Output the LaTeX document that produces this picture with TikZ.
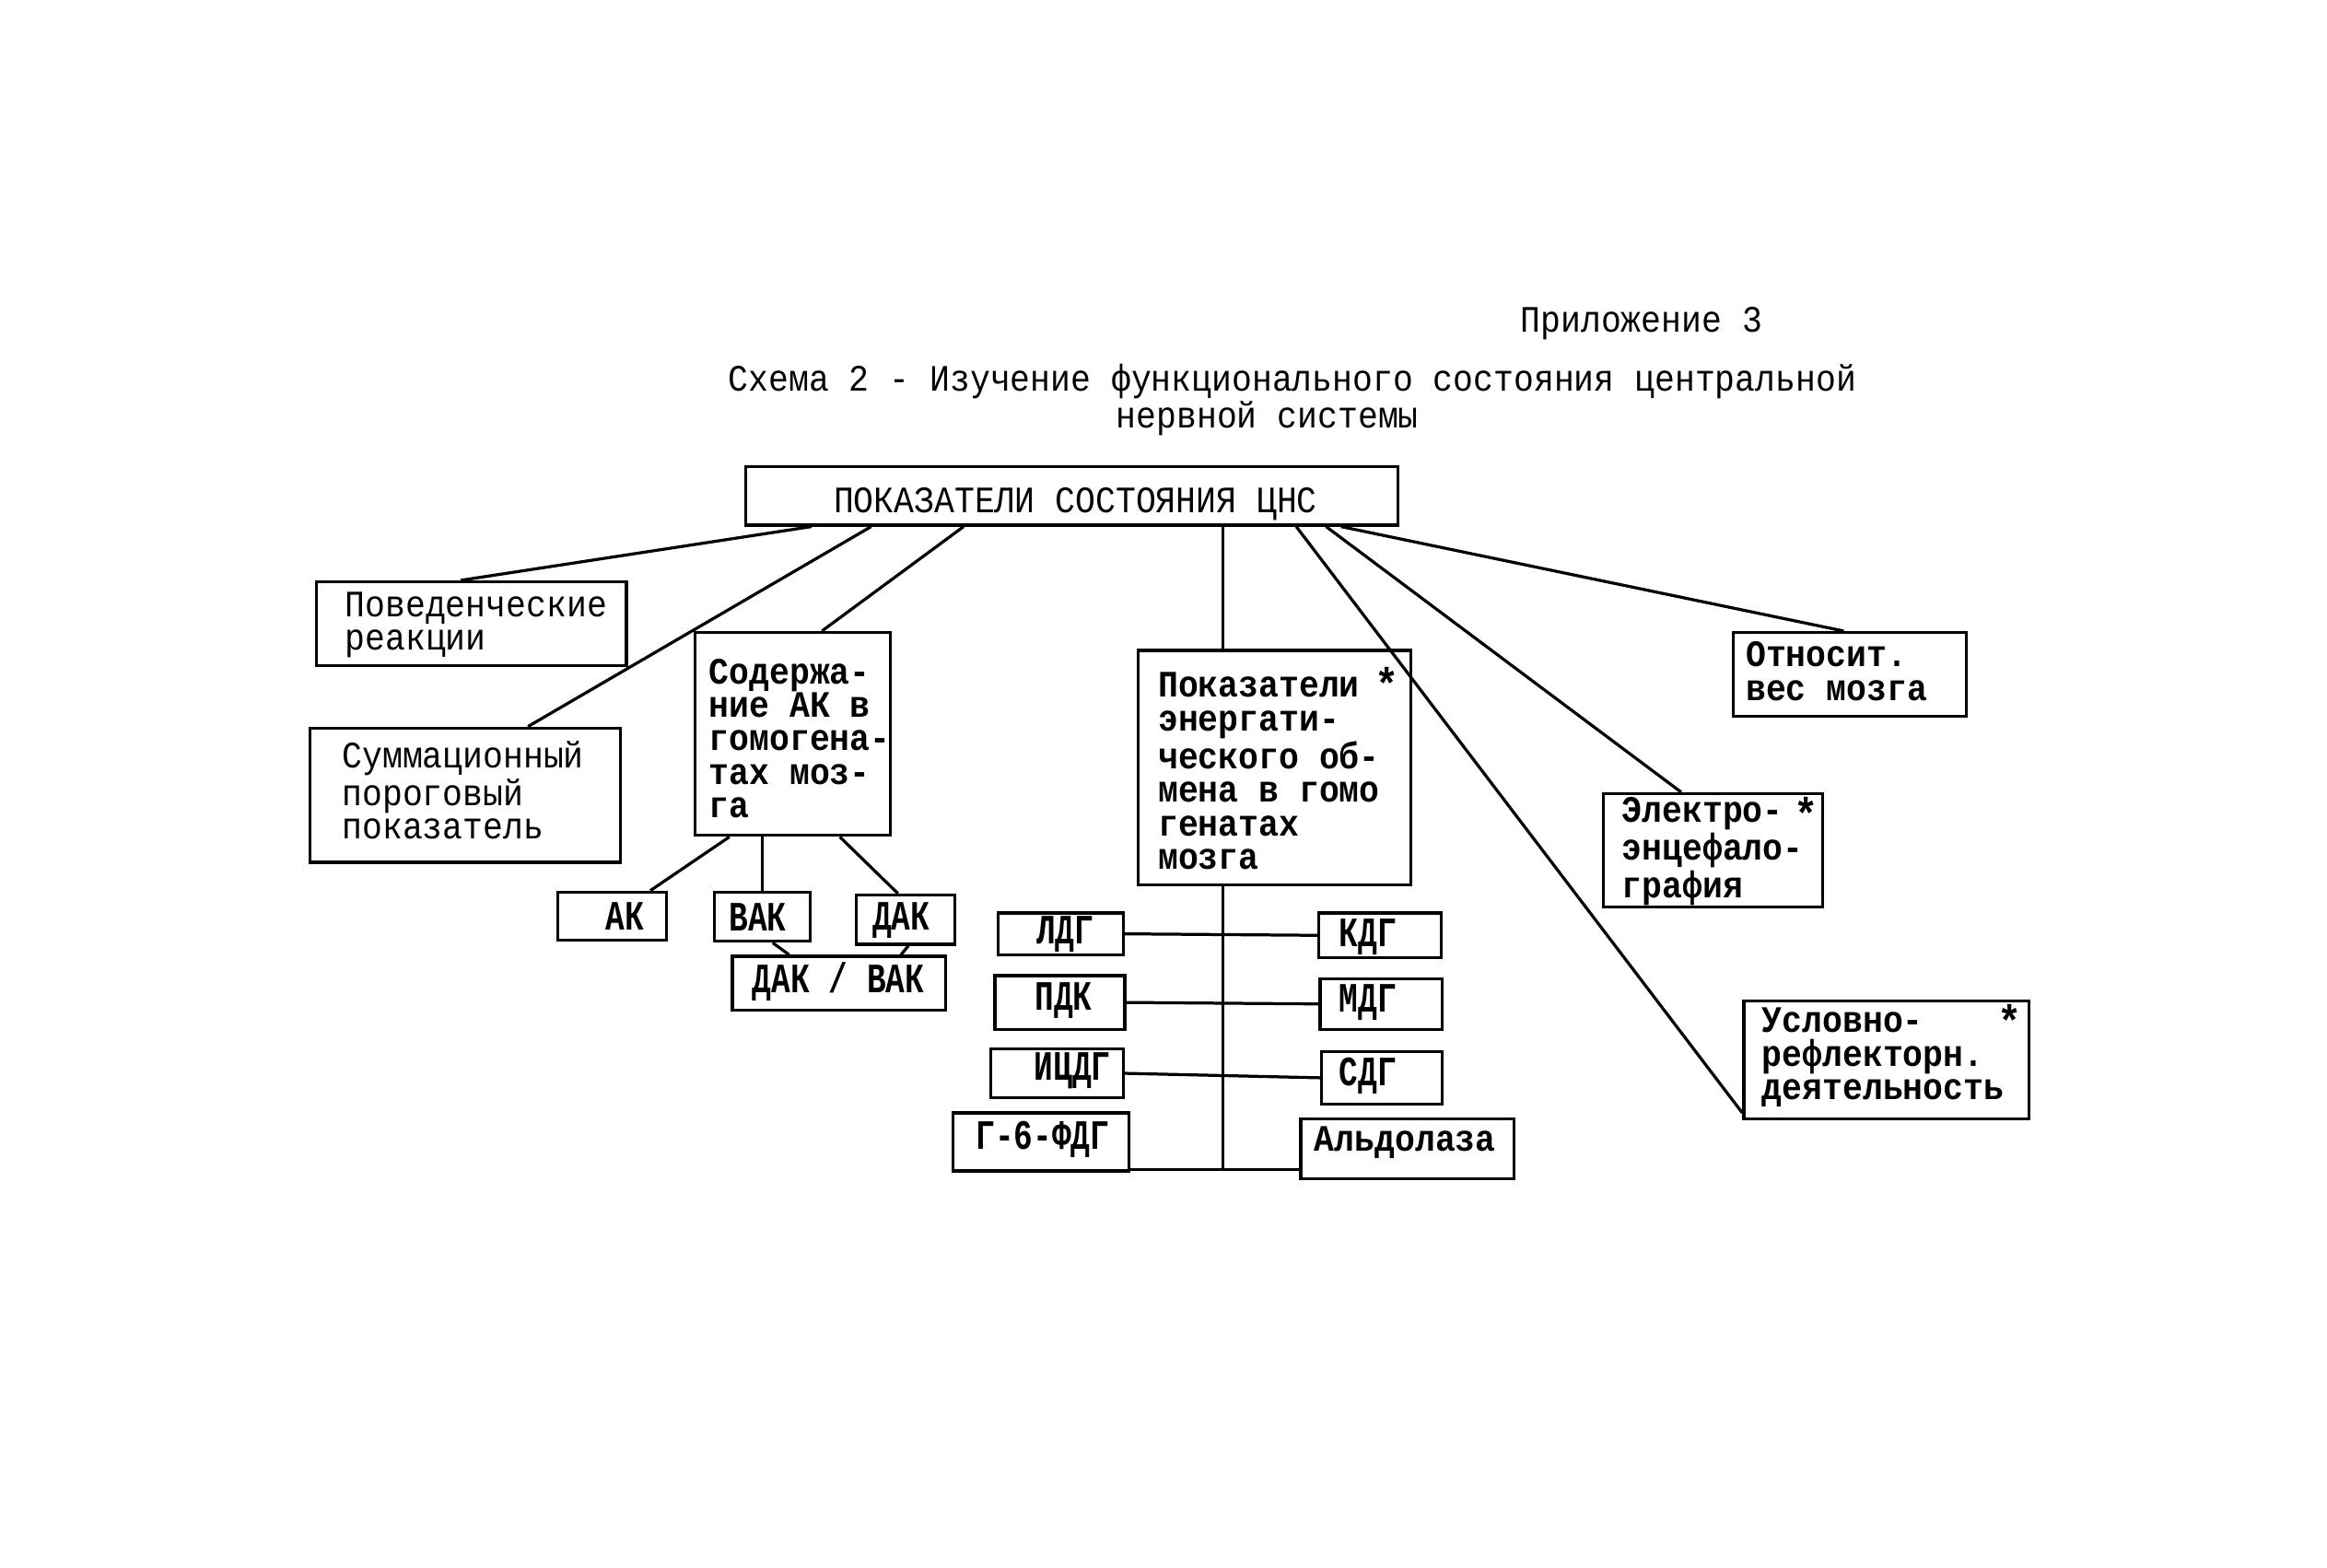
\documentclass[tikz,border=0pt]{standalone}
\usepackage{fontspec}
\setmainfont{Liberation Serif}
\newfontfamily\tw[FakeStretch=0.9]{Liberation Mono}
\newfontfamily\twc[FakeStretch=0.76]{Liberation Mono}
\usetikzlibrary{fit}
\begin{document}
\begin{tikzpicture}[x=0.5pt,y=-0.5pt,
  bx/.style={draw, line width=1pt, inner sep=0pt},
  lab/.style={inner sep=0pt, align=left, font=\tw\fontsize{12.5}{11.25}\selectfont},
  blab/.style={inner sep=0pt, align=left, font=\tw\bfseries\fontsize{12.5}{11.25}\selectfont},
  slab/.style={inner sep=0pt, font=\twc\bfseries\fontsize{14}{14}\selectfont},
  star/.style={inner sep=0pt, font=\tw\bfseries\fontsize{15}{15}\selectfont},
  ln/.style={line width=1pt}]
\useasboundingbox (0,0) rectangle (1560,1050.5);
\fill[white] (0,0) rectangle (1560,1050.5);

% titles
\node[lab, anchor=west] (app) at (1019,217) {Приложение 3};
\node[lab, anchor=west] (ttl) at (488,268) {Схема 2 - Изучение функционального состояния центральной\\\hspace*{130pt}нервной системы};

% main boxes
\node[bx, fit={(500,313) (937,352)}] (top) {};
\node[lab] (ttop) at (721,338) {ПОКАЗАТЕЛИ СОСТОЯНИЯ ЦНС};

\node[bx, fit={(212,390) (420,446)}] (beh) {};
\node[lab, anchor=west] (tbeh) at (231,419) {Поведенческие\\реакции};

\node[bx, fit={(208,488) (416,578)}] (sum) {};
\node[lab, anchor=west] (tsum) at (229,530) {Суммационный\\пороговый\\показатель};

\node[bx, fit={(466,424) (597,560)}] (sod) {};
\node[blab, anchor=west] (tsod) at (475,495) {Содержа-\\ние АК в\\гомогена-\\тах моз-\\га};

\node[bx, fit={(763,436) (946,593)}] (en) {};
\node[blab, anchor=west] (ten) at (776,517) {Показатели\\энергати-\\ческого об-\\мена в гомо\\генатах\\мозга};
\node[star] (s1) at (930,458) {*};

\node[bx, fit={(1162,424) (1318,480)}] (rel) {};
\node[blab, anchor=west] (trel) at (1170,450) {Относит.\\вес мозга};

\node[bx, fit={(1075,532) (1222,608)}] (eeg) {};
\node[blab, anchor=west] (teeg) at (1087,571) {Электро-\\энцефало-\\графия};
\node[star] (s2) at (1211,545) {*};

\node[bx, fit={(1169,671) (1360,750)}] (cond) {};
\node[blab, anchor=west] (tcond) at (1181,709) {Условно-\\рефлекторн.\\деятельность};
\node[star] (s3) at (1347,684) {*};

% small boxes under "Содержание"
\node[bx, fit={(374,598) (447,630)}] (ak) {};
\node[slab] (tak) at (419,614) {АК};
\node[bx, fit={(479,598) (543,631)}] (vak) {};
\node[slab] (tvak) at (508,615) {ВАК};
\node[bx, fit={(574,600) (640,633)}] (dak) {};
\node[slab] (tdak) at (604,617) {ДАК};
\node[bx, fit={(491,641) (634,677)}] (dv) {};
\node[slab] (tdv) at (562,658) {ДАК / ВАК};

% enzyme boxes
\node[bx, fit={(669,612) (753,640)}] (ldg) {};
\node[slab] (tldg) at (714,626) {ЛДГ};
\node[bx, fit={(667,654) (754,690)}] (pdk) {};
\node[slab] (tpdk) at (713,671) {ПДК};
\node[bx, fit={(664,703) (753,736)}] (icdg) {};
\node[slab] (ticdg) at (719,718) {ИЦДГ};
\node[bx, fit={(639,746) (757,785)}] (g6) {};
\node[slab] (tg6) at (699,764) {Г-6-ФДГ};

\node[bx, fit={(884,612) (966,642)}] (kdg) {};
\node[slab] (tkdg) at (917,628) {КДГ};
\node[bx, fit={(885,656) (967,690)}] (mdg) {};
\node[slab] (tmdg) at (917,672) {МДГ};
\node[bx, fit={(886,705) (967,740)}] (sdg) {};
\node[slab] (tsdg) at (917,721) {СДГ};
\node[bx, fit={(872,750) (1015,790)}] (ald) {};
\node[blab] (tald) at (942,766) {Альдолаза};

% connectors from the top box
\draw[ln] ([xshift=22.5pt]top.south west) -- ([xshift=49pt]beh.north west);
\draw[ln] ([xshift=42.5pt]top.south west) -- ([xshift=73.5pt]sum.north west);
\draw[ln] ([xshift=73.5pt]top.south west) -- ([xshift=43pt]sod.north west);
\coordinate (enN) at ([xshift=29pt]en.north west);
\coordinate (enS) at ([xshift=29pt]en.south west);
\draw[ln] (top.south -| enN) -- (enN);
\draw[ln] ([xshift=185pt]top.south west) -- ([yshift=2.5pt]cond.south west);
\draw[ln] ([xshift=195pt]top.south west) -- ([xshift=26.5pt]eeg.north west);
\draw[ln] ([xshift=200pt]top.south west) -- ([xshift=37.5pt]rel.north west);

% connectors under "Содержание"
\draw[ln] ([xshift=12pt]sod.south west) -- ([xshift=31.5pt]ak.north west);
\draw[ln] (sod.south -| vak.north) -- (vak.north);
\draw[ln] ([xshift=49pt]sod.south west) -- ([xshift=14.5pt]dak.north west);
\draw[ln] ([xshift=20pt]vak.south west) -- ([xshift=19.5pt]dv.north west);
\draw[ln] ([xshift=18pt]dak.south west) -- ([xshift=57pt]dv.north west);

% trunk and enzyme branches
\path (enS |- g6.south) ++(0,-2) coordinate (tb);
\draw[ln] (enS) -- (tb);
\draw[ln] (ldg.east) -- (kdg.west);
\draw[ln] (pdk.east) -- (mdg.west);
\draw[ln] (icdg.east) -- (sdg.west);
\draw[ln] ([yshift=1pt]g6.south east) -- ([yshift=3.5pt]ald.south west);
\end{tikzpicture}
\end{document}
